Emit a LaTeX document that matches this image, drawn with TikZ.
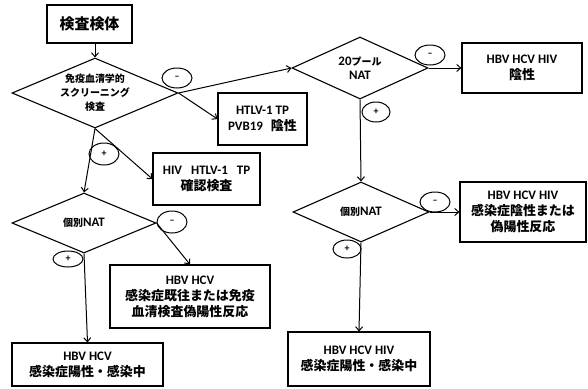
\documentclass[tikz,border=0pt]{standalone}
\usepackage{fontspec}
\setmainfont{Carlito}
\newfontfamily\jpfont{Noto Sans CJK JP}
\usetikzlibrary{shapes.geometric,arrows.meta}

\newcommand\J[1]{{\jpfont\bfseries #1}}
\newcommand\Lt[1]{{\fontsize{13}{14}\selectfont\bfseries #1}}

\tikzset{
  box/.style={draw, line width=1.1bp, inner sep=0pt, align=center,
    font=\bfseries\fontsize{13}{16}\selectfont},
  decision/.style={draw, diamond, line width=1.1bp, inner sep=0pt, align=center,
    font=\bfseries\fontsize{10}{14}\selectfont},
  sign/.style={draw, ellipse, line width=1bp, inner sep=0pt,
    font=\bfseries\fontsize{10}{10}\selectfont},
  arr/.style={draw, line width=1bp, -{Straight Barb[length=4bp,width=7bp]}},
}

\begin{document}
\begin{tikzpicture}[x=1bp,y=-1bp]
\useasboundingbox (0,0) rectangle (588,388);

% boxes
\node[box, minimum width=85bp, minimum height=38bp,
      font=\bfseries\fontsize{15}{18}\selectfont] (sample) at (89.5,24) {\J{検査検体}};
\node[box, minimum width=89bp, minimum height=52bp] (htlv) at (262.5,119)
  {HTLV-1 TP\\PVB19\hspace{8bp}\J{陰性}};
\node[box, minimum width=107bp, minimum height=52bp] (hiv) at (206.5,179)
  {HIV\hspace{9bp}HTLV-1\hspace{9bp}TP\\\J{確認検査}};
\node[box, minimum width=120bp, minimum height=50bp] (poolneg) at (522,68)
  {HBV HCV HIV\\\J{陰性}};
\node[box, minimum width=160bp, minimum height=63bp] (pastinf) at (190,296.5)
  {HBV HCV\\\J{感染症既往または免疫}\\\J{血清検査偽陽性反応}};
\node[box, minimum width=151bp, minimum height=43bp] (bcpos) at (87.5,364.5)
  {HBV HCV\\\J{感染症陽性・感染中}};
\node[box, minimum width=126bp, minimum height=60bp] (indneg) at (523,212)
  {HBV HCV HIV\\\J{感染症陰性または}\\\J{偽陽性反応}};
\node[box, minimum width=142bp, minimum height=54bp] (bchpos) at (359,359)
  {HBV HCV HIV\\\J{感染症陽性・感染中}};

% decisions
\node[decision, aspect=2.37, minimum width=166bp, minimum height=70bp] (screen) at (95,93)
  {\J{免疫血清学的}\\\J{スクリーニング}\\\J{検査}};
\node[decision, aspect=2.2, minimum width=136bp, minimum height=62bp] (pool) at (360,68)
  {\Lt{20}\J{プール}\\\Lt{NAT}};
\node[decision, aspect=2.4, minimum width=144bp, minimum height=60bp] (indA) at (84,223)
  {\J{個別}\Lt{NAT}};
\node[decision, aspect=2.27, minimum width=136bp, minimum height=60bp] (indB) at (361,212)
  {\J{個別}\Lt{NAT}};

% connectors
\draw[arr] (screen.north |- sample.south) -- (screen.north);
\draw[arr] (screen.east) -- (pool.west);
\draw[arr] (screen.east) -- (htlv.west);
\draw[arr] (screen.south) -- (hiv.west);
\draw[arr] (screen.south) -- (indA.north);
\draw[arr] (pool.east) -- (poolneg.west);
\draw[arr] (pool.south) -- (indB.north);
\draw[arr] (indA.east) -- (pastinf.north);
\draw[arr] (indA.south) -- (bcpos.north);
\draw[arr] (indB.east) -- (indneg.west);
\draw[arr] (indB.south) -- (bchpos.north);

% result signs
\node[sign, minimum width=30bp, minimum height=20bp] (m1) at (177,78) {--};
\node[sign, minimum width=30bp, minimum height=22bp] (p1) at (104,154) {+};
\node[sign, minimum width=30bp, minimum height=20bp] (m2) at (430,55) {--};
\node[sign, minimum width=28bp, minimum height=20bp] (p2) at (376,112) {+};
\node[sign, minimum width=30bp, minimum height=22bp] (m3) at (172,222) {--};
\node[sign, minimum width=30bp, minimum height=16bp] (p3) at (68,259) {+};
\node[sign, minimum width=30bp, minimum height=20bp] (m4) at (435,202) {--};
\node[sign, minimum width=28bp, minimum height=18bp] (p4) at (347,249) {+};
\end{tikzpicture}
\end{document}
